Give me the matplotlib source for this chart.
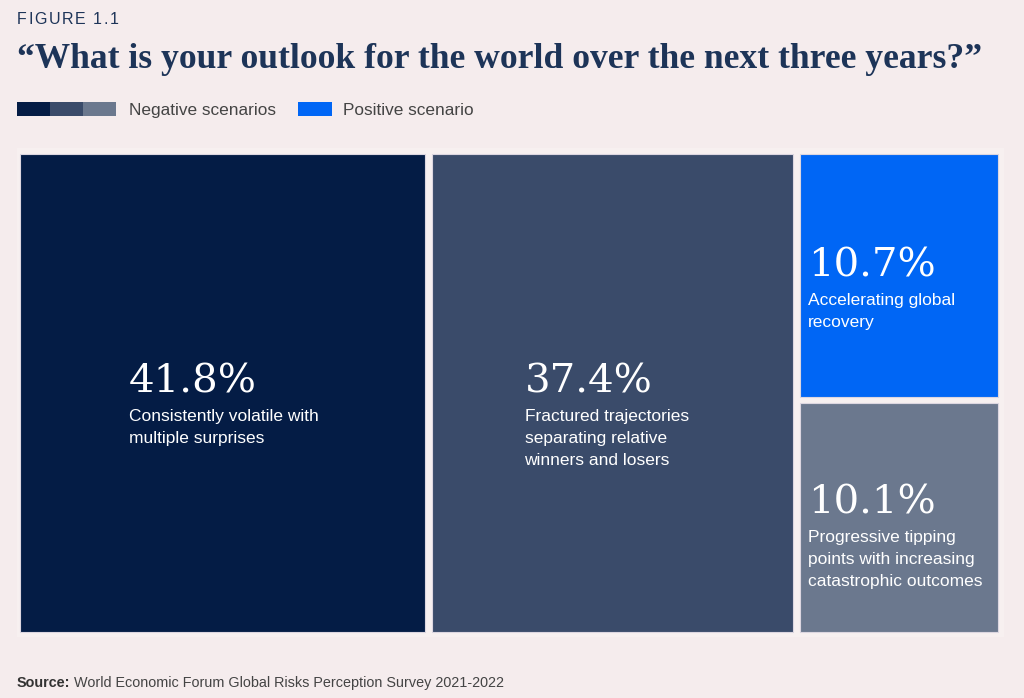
"""Treemap: outlook for the world over the next three years."""
import matplotlib.pyplot as plt
from matplotlib.patches import Rectangle

# data
scenarios = [
    "Consistently volatile with\nmultiple surprises",
    "Fractured trajectories\nseparating relative\nwinners and losers",
    "Accelerating global\nrecovery",
    "Progressive tipping\npoints with increasing\ncatastrophic outcomes",
]
shares = [41.8, 37.4, 10.7, 10.1]
colors = ["#041c45", "#3a4b6a", "#0066f5", "#6b788e"]

BG = "#f5eced"
NAVY = "#1d3458"

fig = plt.figure(figsize=(10.24, 6.98), dpi=100, facecolor=BG)
ax = fig.add_axes([0, 0, 1, 1])
ax.set_xlim(0, 1024)
ax.set_ylim(698, 0)
ax.axis("off")

# treemap region (pixel space)
x0, y0, x1, y1 = 20, 154, 998, 632
gap = 6.5
total = sum(shares)
W = x1 - x0 + gap
H = y1 - y0 + gap

ax.add_patch(Rectangle((17, 148), 987, 489, facecolor="#f7f0f0", edgecolor="none"))

rects = []
cx = x0
for v in shares[:2]:
    w = W * v / total
    rects.append((cx, y0, w - gap, y1 - y0))
    cx += w
col = shares[2] + shares[3]
cw = x1 - cx
cy = y0
for v in shares[2:]:
    h = H * v / col
    rects.append((cx, cy, cw, h - gap))
    cy += h

# text anchors: (x offset from rect left, y offset from rect top) for the number
anchors = [(109, 228), (93, 228), (8, 112), (8, 100)]

for (rx, ry, rw, rh), v, lab, c, (dx, dy) in zip(rects, shares, scenarios, colors, anchors):
    ax.add_patch(Rectangle((rx, ry), rw, rh, facecolor=c, edgecolor="#dcd6e0", linewidth=0.8))
    ax.text(rx + dx, ry + dy, f"{v:.1f}%", color="white", fontsize=29,
            family="DejaVu Serif", ha="left", va="center")
    ax.text(rx + dx, ry + dy + 27, lab, color="white", fontsize=12.5,
            family="Liberation Sans", ha="left", va="top", linespacing=1.58)

# letter-spaced figure label
renderer = fig.canvas.get_renderer()
px = 17
for ch in "FIGURE 1.1":
    t = ax.text(px, 19, ch, color=NAVY, fontsize=11.5, family="Liberation Sans",
                ha="left", va="center")
    px += t.get_window_extent(renderer).width + 1.6

ax.text(17, 59, "\u201cWhat is your outlook for the world over the next three years?\u201d",
        color=NAVY, fontsize=25.6, family="Liberation Serif", weight="bold", ha="left", va="center")

# legend
for i, c in enumerate(colors[:2] + [colors[3]]):
    ax.add_patch(Rectangle((17 + i * 33, 102), 33, 14, facecolor=c, edgecolor="none"))
ax.text(129, 115, "Negative scenarios", color="#444444", fontsize=12.4,
        family="Liberation Sans", ha="left", va="baseline")
ax.add_patch(Rectangle((298, 102), 34, 14, facecolor=colors[2], edgecolor="none"))
ax.text(343, 115, "Positive scenario", color="#444444", fontsize=12.4,
        family="Liberation Sans", ha="left", va="baseline")

src = ax.text(17, 683, "Source:", color="#333333", fontsize=10.4, family="Liberation Sans",
              weight="bold", ha="left", va="center")
ax.annotate("World Economic Forum Global Risks Perception Survey 2021-2022",
            xy=(1, 0.5), xycoords=src, xytext=(3, 0), textcoords="offset pixels",
            color="#444444", fontsize=10.4, family="Liberation Sans", ha="left", va="center")

fig.savefig("out.png", dpi=100, facecolor=BG)
